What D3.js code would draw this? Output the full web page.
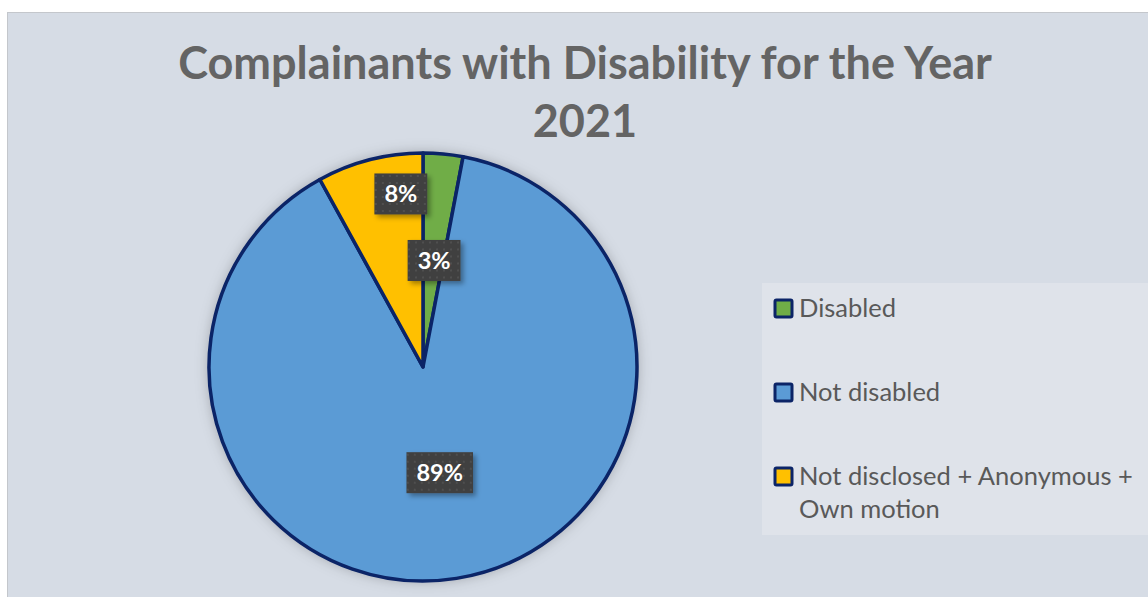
<!DOCTYPE html>
<html>
<head>
<meta charset="utf-8">
<script src="https://cdn.jsdelivr.net/npm/d3@7"></script>
<style>
  html, body { margin: 0; padding: 0; background: #ffffff; }
  svg { display: block; }
</style>
</head>
<body>
<svg id="chart" width="1148" height="597"></svg>
<script>
// Share of complainants by disability status, 2021 (percent)
const categories = ["Disabled", "Not disabled", "Not disclosed + Anonymous + Own motion"];
const legendLines = [["Disabled"], ["Not disabled"], ["Not disclosed + Anonymous +", "Own motion"]];
const values = [3, 89, 8];
const colors = ["#70ad47", "#5b9bd5", "#ffc000"];
const titleLines = ["Complainants with Disability for the Year", "2021"];

const W = 1148, H = 597;
const svg = d3.select("#chart");
const defs = svg.append("defs");

// soft shadow around the pie
const sh = defs.append("filter").attr("id", "pieShadow")
  .attr("x", "-20%").attr("y", "-20%").attr("width", "140%").attr("height", "140%");
sh.append("feDropShadow").attr("dx", 0).attr("dy", 0).attr("stdDeviation", 7)
  .attr("flood-color", "#000").attr("flood-opacity", 0.28);

// shadow for label boxes
const lsh = defs.append("filter").attr("id", "labelShadow")
  .attr("x", "-30%").attr("y", "-30%").attr("width", "160%").attr("height", "160%");
lsh.append("feDropShadow").attr("dx", 3).attr("dy", 3).attr("stdDeviation", 2.5)
  .attr("flood-color", "#000").attr("flood-opacity", 0.35);

// dotted dark fill for label boxes
const pat = defs.append("pattern").attr("id", "dots")
  .attr("width", 7).attr("height", 7).attr("patternUnits", "userSpaceOnUse");
pat.append("rect").attr("width", 7).attr("height", 7).attr("fill", "#3f3f3f");
pat.append("rect").attr("x", 2).attr("y", 2).attr("width", 2).attr("height", 2).attr("fill", "#505050");

// chart area
svg.append("rect").attr("x", 7.5).attr("y", 12.5).attr("width", W).attr("height", H)
  .attr("fill", "#d6dce5").attr("stroke", "#c4c7cc").attr("stroke-width", 1);

// title
const title = svg.append("text")
  .attr("text-anchor", "middle")
  .attr("font-family", "Lato, 'Open Sans', sans-serif")
  .attr("font-weight", "bold")
  .attr("font-size", 40)
  .attr("fill", "#646464");
title.selectAll("tspan").data(titleLines).join("tspan")
  .attr("x", 585).attr("y", (d, i) => 79 + i * 58).text(d => d);
// fit the long title line to its width
{
  const t = title.select("tspan").node();
  const w = t.getComputedTextLength();
  title.attr("font-size", 40 * 814 / w);
}

// pie
const cx = 423, cy = 367, R = 214;
const pie = d3.pie().sort(null).value(d => d);
const arcs = pie(values);
const arc = d3.arc().innerRadius(0).outerRadius(R);
const g = svg.append("g").attr("transform", `translate(${cx},${cy})`);

g.append("circle").attr("r", R).attr("fill", "#5b9bd5").attr("filter", "url(#pieShadow)");
g.selectAll("path.slice").data(arcs).join("path")
  .attr("class", "slice")
  .attr("d", arc)
  .attr("fill", (d, i) => colors[i])
  .attr("stroke", "#0b2467")
  .attr("stroke-width", 3.5)
  .attr("stroke-linejoin", "round");

// data labels
const labelArc = d3.arc().innerRadius(R * 0.5).outerRadius(R * 0.5);
const labelNudge = [[1, 0], [0, 0], [22, -1]];
const lbl = g.selectAll("g.lbl").data(arcs).join("g").attr("class", "lbl")
  .attr("transform", (d, i) => {
    let [x, y] = labelArc.centroid(d);
    if (i === 2) {
      const a = (d.startAngle + d.endAngle) / 2;
      x = Math.sin(a) * R * 0.83; y = -Math.cos(a) * R * 0.83;
    }
    return `translate(${x + labelNudge[i][0]},${y + labelNudge[i][1]})`;
  });
lbl.each(function(d) {
  const s = d3.select(this);
  const t = s.append("text")
    .attr("text-anchor", "middle")
    .attr("dy", "0.36em")
    .attr("font-family", "Lato, 'Open Sans', sans-serif")
    .attr("font-weight", "bold")
    .attr("font-size", 23.5)
    .attr("fill", "#ffffff")
    .text(d.data + "%");
  const w = t.node().getComputedTextLength() + 20;
  const h = 41;
  s.insert("rect", "text")
    .attr("x", -w / 2).attr("y", -h / 2).attr("width", w).attr("height", h)
    .attr("fill", "url(#dots)").attr("filter", "url(#labelShadow)");
});

// legend
const lg = svg.append("g");
lg.append("rect").attr("x", 762).attr("y", 283).attr("width", 386).attr("height", 252)
  .attr("fill", "#dfe3ea");
const items = lg.selectAll("g.item").data(categories).join("g").attr("class", "item")
  .attr("transform", (d, i) => `translate(775,${308 + i * 84})`);
items.append("rect").attr("x", 0).attr("y", -8).attr("width", 17).attr("height", 17)
  .attr("rx", 1.5)
  .attr("fill", (d, i) => colors[i]).attr("stroke", "#0b2467").attr("stroke-width", 3);
const legendText = items.append("text")
  .attr("x", 24).attr("y", 9)
  .attr("font-family", "Lato, 'Open Sans', sans-serif")
  .attr("font-size", 22)
  .attr("fill", "#595959");
legendText.selectAll("tspan").data((d, i) => legendLines[i]).join("tspan")
  .attr("x", 24).attr("dy", (d, j) => j === 0 ? 0 : 33).text(d => d);
// size legend text so the longest line spans its width
{
  const t = legendText.filter((d, i) => i === 2).select("tspan").node();
  const w = t.getComputedTextLength();
  legendText.attr("font-size", 22 * 334 / w);
}
</script>
</body>
</html>
